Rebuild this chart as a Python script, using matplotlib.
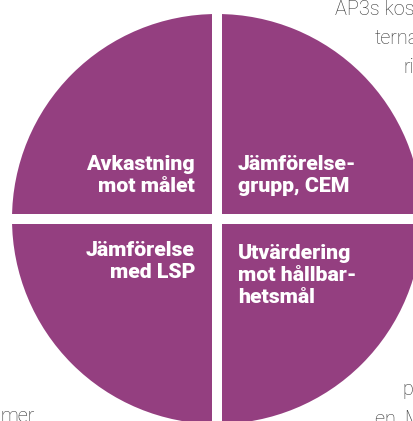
import matplotlib.pyplot as plt

# four equal parts of the evaluation wheel
parts = [25, 25, 25, 25]
labels_left = ["Avkastning\nmot målet", "Jämförelse\nmed LSP"]
labels_right = ["Jämförelse-\ngrupp, CEM", "Utvärdering\nmot hållbar-\nhetsmål"]

# bits of body text around the wheel (cut off by the crop)
side_text = ["AP3s kos", "terna", "ri", "p", "en. M", "mer"]

purple = "#943F80"

fig = plt.figure(figsize=(4.14, 4.21), dpi=100)
ax = fig.add_axes([0, 0, 1, 1])

gap = 10  # px, white cross between the parts
ax.pie(parts, center=(217, 219), radius=205 + gap / 2, startangle=90,
       colors=[purple] * 4, frame=True,
       wedgeprops=dict(edgecolor="white", linewidth=gap * 0.72))

ax.set_xlim(0, 414)
ax.set_ylim(421, 0)
ax.set_aspect("equal")
ax.axis("off")

# va="baseline" on multi-line text sits on the last line
font = dict(family=["Roboto", "DejaVu Sans"], color="white",
            fontweight=900, fontsize=15.3, linespacing=1.2)
ax.text(195, 192, labels_left[0], ha="right", va="baseline", multialignment="right", **font)
ax.text(195, 278, labels_left[1], ha="right", va="baseline", multialignment="right", **font)
ax.text(238, 192, labels_right[0], ha="left", va="baseline", multialignment="left", **font)
ax.text(238, 303, labels_right[1], ha="left", va="baseline", multialignment="left", **font)

bg = dict(family=["Roboto", "DejaVu Sans"], color="#333333",
          fontweight="light", fontsize=14.3, va="baseline", ha="left")
ax.text(335, 15, side_text[0], **bg)
ax.text(375, 44, side_text[1], **bg)
ax.text(403, 73, side_text[2], **bg)
ax.text(402, 395, side_text[3], **bg)
ax.text(375, 425, side_text[4], **bg)
ax.text(0, 422, side_text[5], **bg)

fig.savefig("out.png", dpi=100)
